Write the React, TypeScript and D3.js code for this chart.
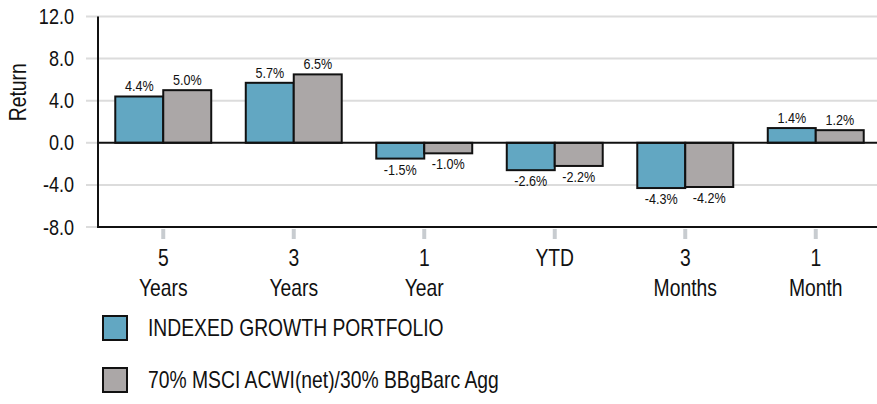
import React, { useEffect, useRef } from "react";
import * as d3 from "d3";

const categories = ["5|Years", "3|Years", "1|Year", "YTD", "3|Months", "1|Month"];
const seriesNames = ["INDEXED GROWTH PORTFOLIO", "70% MSCI ACWI(net)/30% BBgBarc Agg"];
const portfolio = [4.4, 5.7, -1.5, -2.6, -4.3, 1.4];
const benchmark = [5.0, 6.5, -1.0, -2.2, -4.2, 1.2];
const yTicks = [12, 8, 4, 0, -4, -8];
const colors = ["#62a7c2", "#aba7a7"];

const FONT = "'Liberation Sans', Arial, sans-serif";
const SQUEEZE = 0.84; // reference uses a condensed face

// text drawn condensed around its anchor point
function label(parent: any, x: number, y: number, str: string, size: number, anchor = "start", rotate = 0) {
  return parent.append("text")
    .attr("transform", `translate(${x},${y}) rotate(${rotate}) scale(${SQUEEZE},1)`)
    .attr("text-anchor", anchor)
    .style("font-size", size + "px")
    .attr("fill", "#111")
    .text(str);
}

export default function App() {
  const ref = useRef<SVGSVGElement>(null);

  useEffect(() => {
    document.body.style.margin = "0";
    const svg = d3.select(ref.current);
    svg.selectAll("*").remove();

    const width = 877;
    const height = 404;
    const margin = { top: 16.5, right: -4, bottom: 177, left: 98 };

    svg.attr("width", width).attr("height", height).style("font-family", FONT);

    const y = d3.scaleLinear()
      .domain([-8, 12])
      .range([height - margin.bottom, margin.top]);

    const x = d3.scaleBand()
      .domain(categories)
      .range([margin.left, width - margin.right])
      .padding(0);

    const inner = d3.scaleBand()
      .domain(["a", "b"])
      .range([0, x.bandwidth()])
      .paddingInner(0)
      .paddingOuter(0.36);

    // grid lines
    svg.append("g")
      .selectAll("line")
      .data(yTicks.filter(d => d !== 0 && d !== -8))
      .enter()
      .append("line")
      .attr("x1", margin.left - 12)
      .attr("x2", width)
      .attr("y1", d => y(d))
      .attr("y2", d => y(d))
      .attr("stroke", "#dcdcdc")
      .attr("stroke-width", 2);

    // grey stubs left of the axis for 0 and -8
    svg.append("g")
      .selectAll("line")
      .data([0, -8])
      .enter()
      .append("line")
      .attr("x1", margin.left - 12)
      .attr("x2", margin.left)
      .attr("y1", d => y(d))
      .attr("y2", d => y(d))
      .attr("stroke", "#dcdcdc")
      .attr("stroke-width", 2);

    // y tick labels
    const yl = svg.append("g");
    yTicks.forEach(t => label(yl, 74, y(t) + 7.5, t.toFixed(1), 21.5, "end"));

    // y title
    label(svg, 26, y(4.8), "Return", 23, "middle", -90);

    const rows = categories.map((c, i) => ({ cat: c, vals: [portfolio[i], benchmark[i]] }));

    const groups = svg.append("g")
      .selectAll("g")
      .data(rows)
      .enter()
      .append("g")
      .attr("transform", d => `translate(${x(d.cat)},0)`);

    groups.selectAll("rect")
      .data(d => d.vals.map((v, j) => ({ v, j })))
      .enter()
      .append("rect")
      .attr("x", d => inner(d.j === 0 ? "a" : "b")!)
      .attr("width", inner.bandwidth())
      .attr("y", d => y(Math.max(0, d.v)))
      .attr("height", d => Math.abs(y(d.v) - y(0)))
      .attr("fill", d => colors[d.j])
      .attr("stroke", "#111")
      .attr("stroke-width", 2);

    groups.each(function (d) {
      const g = d3.select(this);
      d.vals.forEach((v, j) => {
        const cx = inner(j === 0 ? "a" : "b")! + inner.bandwidth() / 2;
        label(g, cx, v >= 0 ? y(v) - 5 : y(v) + 16, v.toFixed(1) + "%", 15, "middle");
      });
    });

    // zero line and axes
    svg.append("line")
      .attr("x1", margin.left)
      .attr("x2", width)
      .attr("y1", y(0))
      .attr("y2", y(0))
      .attr("stroke", "#111")
      .attr("stroke-width", 2);

    svg.append("line")
      .attr("x1", margin.left)
      .attr("x2", width)
      .attr("y1", y(-8))
      .attr("y2", y(-8))
      .attr("stroke", "#111")
      .attr("stroke-width", 2);

    svg.append("line")
      .attr("x1", margin.left)
      .attr("x2", margin.left)
      .attr("y1", y(12))
      .attr("y2", y(-8) + 1)
      .attr("stroke", "#111")
      .attr("stroke-width", 2);

    // x ticks + labels
    const xt = svg.append("g")
      .selectAll("g")
      .data(categories)
      .enter()
      .append("g")
      .attr("transform", d => `translate(${x(d)! + x.bandwidth() / 2},0)`);

    xt.append("line")
      .attr("y1", y(-8) + 2)
      .attr("y2", y(-8) + 12)
      .attr("stroke", "#c8ccd0")
      .attr("stroke-width", 4);

    xt.each(function (d) {
      const g = d3.select(this);
      d.split("|").forEach((p, k) => label(g, 0, 266 + k * 30, p, 23, "middle"));
    });

    // legend
    const lg = svg.append("g")
      .selectAll("g")
      .data(seriesNames)
      .enter()
      .append("g")
      .attr("transform", (d, i) => `translate(103, ${316 + i * 52})`);

    lg.append("rect")
      .attr("width", 24)
      .attr("height", 24)
      .attr("fill", (d, i) => colors[i])
      .attr("stroke", "#111")
      .attr("stroke-width", 2);

    lg.each(function (d) {
      label(d3.select(this), 45, 20, d, 23);
    });
  }, []);

  return <svg ref={ref}></svg>;
}
